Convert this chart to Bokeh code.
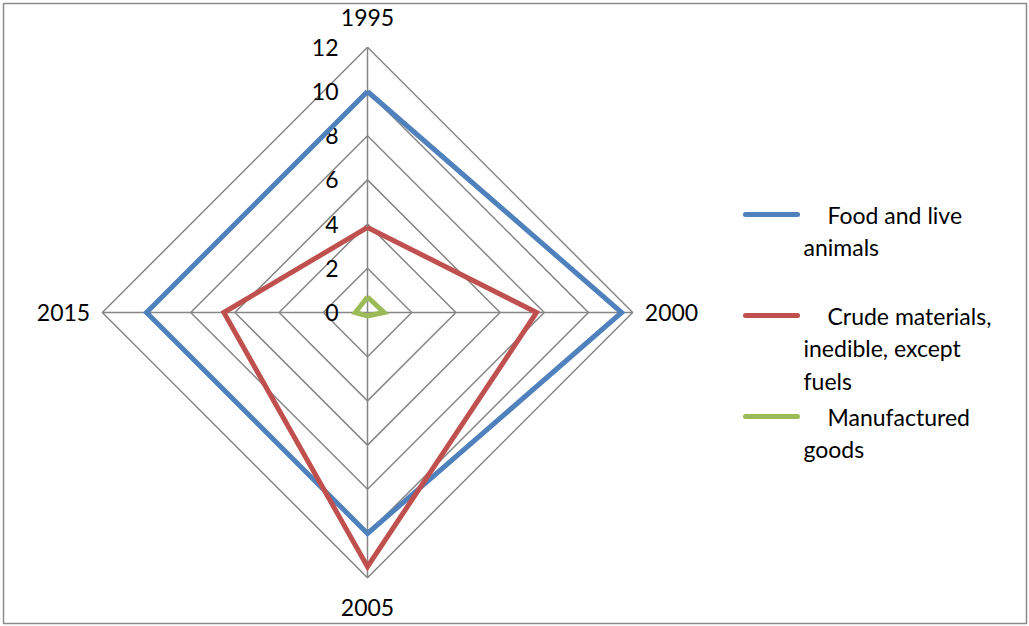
import math
from bokeh.plotting import figure
from bokeh.models import ColumnDataSource
from bokeh.core.properties import value
from bokeh.embed import file_html
from bokeh.resources import INLINE

# ---- data ----
categories = ["1995", "2000", "2005", "2015"]
food = [10, 11.5, 10, 10]
crude = [3.85, 7.65, 11.5, 6.5]
manufactured = [0.7, 0.75, 0.15, 0.55]
series_names = [["Food and live", "animals"],
                ["Crude materials,", "inedible, except", "fuels"],
                ["Manufactured", "goods"]]
tick_values = [0, 2, 4, 6, 8, 10, 12]
tick_labels = ["0", "2", "4", "6", "8", "10", "12"]

# ---- layout helpers ----
W, H = 1029, 626
CX, CY = 367, 312      # pixel position of the centre
S = 22.1               # pixels per unit

def dx(px):
    return (px - CX) / S

def dy(py):
    return (CY - py) / S

FONT = value("Lato")
FS = "23px"
colors = ["#4F81BD", "#C0504D", "#9BBB59"]

p = figure(width=W, height=H, output_backend="svg", toolbar_location=None,
           x_range=(dx(3), dx(1026)), y_range=(dy(623), dy(3)),
           min_border_left=3, min_border_right=3, min_border_top=3, min_border_bottom=3)
p.axis.visible = False
p.grid.visible = False
p.outline_line_color = "#8C8C8C"
p.outline_line_width = 1.5
p.background_fill_color = "white"
p.border_fill_color = "white"

n = len(categories)
angles = [math.pi / 2 - i * 2 * math.pi / n for i in range(n)]

def polar(vals):
    xs = [v * math.cos(a) for v, a in zip(vals, angles)]
    ys = [v * math.sin(a) for v, a in zip(vals, angles)]
    return xs + xs[:1], ys + ys[:1]

GRID = "#868686"
# grid polygons
for t in tick_values[1:]:
    xs, ys = polar([t] * n)
    p.line(xs, ys, line_color=GRID, line_width=1.5)
# spokes
rmax = tick_values[-1]
for a in angles:
    p.line([0, rmax * math.cos(a)], [0, rmax * math.sin(a)], line_color=GRID, line_width=1.5)

# tick labels along the top spoke
p.text(x=[dx(CX - 29)] * len(tick_values), y=tick_values, text=tick_labels,
       text_font=FONT, text_font_size=FS, text_color="black",
       text_align="right", text_baseline="middle")

# category labels
lab_r = rmax + 1.35
cat_x, cat_y, aligns = [], [], []
for a in angles:
    c, s = math.cos(a), math.sin(a)
    cat_x.append((rmax + 0.55) * c if abs(c) > 0.5 else 0)
    cat_y.append(lab_r * s if abs(s) > 0.5 else 0)
    aligns.append("left" if c > 0.5 else ("right" if c < -0.5 else "center"))
src = ColumnDataSource(dict(x=cat_x, y=cat_y, t=categories, a=aligns))
p.text(x="x", y="y", text="t", text_align="a", source=src,
       text_font=FONT, text_font_size=FS, text_color="black", text_baseline="middle")

# series
for vals, col in zip([food, crude, manufactured], colors):
    xs, ys = polar(vals)
    p.line(xs, ys, line_color=col, line_width=5, line_join="miter")

# legend (manual)
leg_y = [214, 315, 416]
LH = 32.5
for (names, col, yy) in zip(series_names, colors, leg_y):
    p.line([dx(745), dx(797)], [dy(yy), dy(yy)], line_color=col, line_width=5, line_cap="round")
    for k, name in enumerate(names):
        px = 827 if k == 0 else 803
        p.text(x=[dx(px)], y=[dy(yy + k * LH)], text=[name],
               text_font=FONT, text_font_size=FS, text_color="black",
               text_align="left", text_baseline="middle")

open("out.html", "w").write(file_html(p, INLINE))
